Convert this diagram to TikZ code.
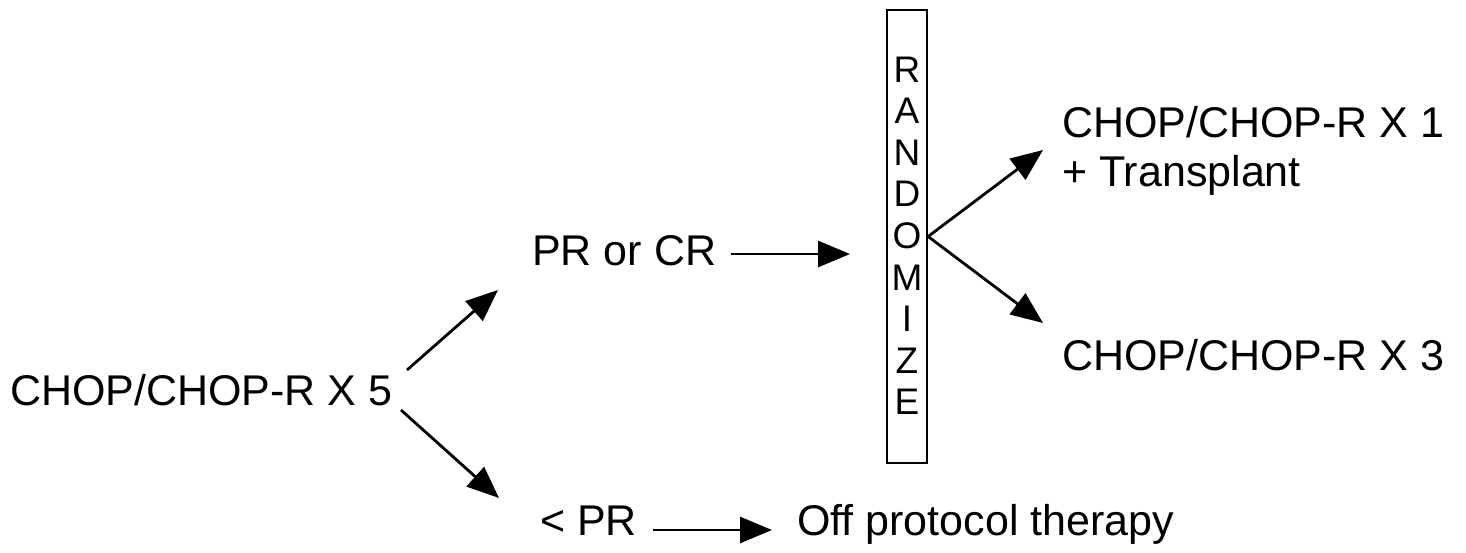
\documentclass[tikz,border=0pt]{standalone}
\usepackage{fontspec}
\setmainfont{Liberation Sans}
\usetikzlibrary{arrows.meta}
\begin{document}
\begin{tikzpicture}[x=1pt,y=-1pt,
  txt/.style={font=\fontsize{43}{50}\selectfont, inner sep=0pt, anchor=base west},
  letter/.style={font=\fontsize{37}{40}\selectfont, inner sep=0pt, anchor=base},
  arr/.style={line width=2.8pt, -{Triangle[length=32pt,width=26pt]}},
  rbox/.style={draw, line width=2.2pt, minimum width=40pt, minimum height=453pt, inner sep=0pt}]
\useasboundingbox (0,0) rectangle (1466,552);
% texts
\node[txt] (c5) at (10,405) {CHOP/CHOP-R X 5};
\node[txt] (pr) at (532,265) {PR or CR};
\node[txt] (lpr) at (540,535) {< PR};
\node[txt] (off) at (797,535) {Off protocol therapy};
\node[txt] (c1) at (1062,137) {CHOP/CHOP-R X 1};
\node[txt] (tr) at (1062,186) {+ Transplant};
\node[txt] (c3) at (1062,370) {CHOP/CHOP-R X 3};
% randomize box
\node[rbox] (box) at (907,236.5) {};
\foreach \l [count=\i from 0] in {R,A,N,D,O,M,I,Z,E}
  \node[letter] (l\i) at (907,82+41.6*\i) {\l};
% coordinates
\coordinate (a1s) at (407,370); \coordinate (a1e) at (498,290);
\coordinate (a2s) at (401,410); \coordinate (a2e) at (499,498);
\coordinate (a3s) at (731,254); \coordinate (a3e) at (850,254);
\coordinate (a4s) at (653,530); \coordinate (a4e) at (772,530);
\coordinate (a5e) at (1043,150);
\coordinate (a6e) at (1043,323);
% arrows
\draw[arr] (a1s) -- (a1e);
\draw[arr] (a2s) -- (a2e);
\draw[arr] (a3s) -- (a3e);
\draw[arr] (a4s) -- (a4e);
\draw[arr] (box.east) -- (a5e);
\draw[arr] (box.east) -- (a6e);
\end{tikzpicture}
\end{document}
